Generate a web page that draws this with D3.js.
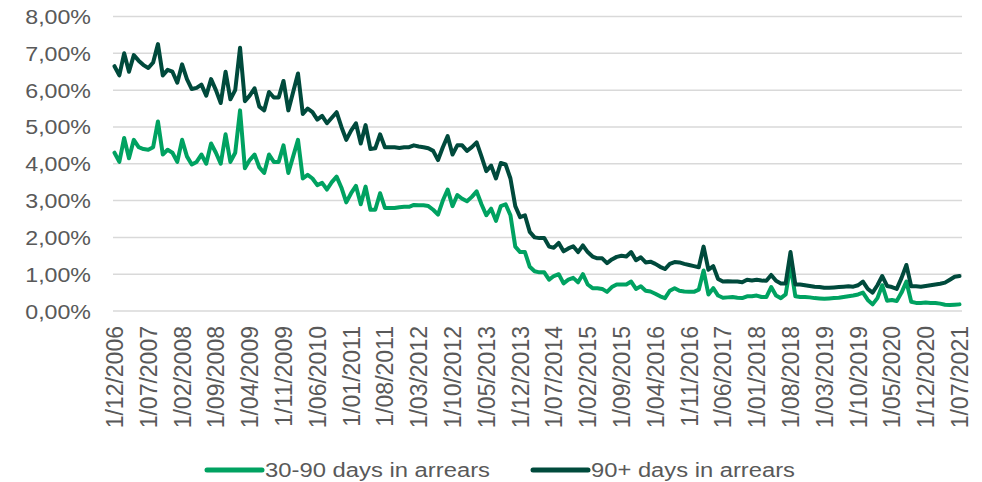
<!DOCTYPE html>
<html>
<head>
<meta charset="utf-8">
<script src="https://cdn.jsdelivr.net/npm/d3@7/dist/d3.min.js"></script>
<style>
  html, body { margin: 0; padding: 0; background: #fff; }
  svg { display: block; font-family: "Liberation Sans", Arial, sans-serif; }
</style>
</head>
<body>
<svg id="chart"></svg>
<script>
// monthly series, Dec 2006 .. Jul 2021 (176 months)
const startMonth = new Date(2006, 11, 1);
const endMonth = new Date(2021, 6, 1);

const arrears3090 = [
  4.30, 4.05, 4.70, 4.15, 4.65, 4.45, 4.40, 4.38, 4.45, 5.15,
  4.25, 4.38, 4.30, 4.05, 4.65, 4.20, 3.98, 4.05, 4.25, 4.00,
  4.55, 4.30, 4.00, 4.80, 4.05, 4.30, 5.45, 3.88, 4.10, 4.25,
  3.90, 3.75, 4.25, 4.05, 4.05, 4.50, 3.75, 4.20, 4.65, 3.60,
  3.70, 3.60, 3.42, 3.48, 3.30, 3.50, 3.65, 3.35, 2.95, 3.20,
  3.40, 2.90, 3.38, 2.75, 2.75, 3.20, 2.80, 2.80, 2.80, 2.82,
  2.83, 2.83, 2.88, 2.87, 2.87, 2.85, 2.75, 2.62, 3.00, 3.30,
  2.85, 3.15, 3.05, 2.98, 3.10, 3.25, 2.90, 2.60, 2.78, 2.45,
  2.85, 2.90, 2.60, 1.75, 1.60, 1.60, 1.20, 1.08, 1.05, 1.05,
  0.85, 0.95, 1.00, 0.75, 0.85, 0.90, 0.78, 1.00, 0.72, 0.62,
  0.62, 0.60, 0.52, 0.65, 0.72, 0.72, 0.72, 0.80, 0.60, 0.67,
  0.55, 0.53, 0.47, 0.40, 0.35, 0.55, 0.62, 0.55, 0.53, 0.52,
  0.52, 0.58, 1.10, 0.45, 0.62, 0.42, 0.36, 0.37, 0.38, 0.36,
  0.35, 0.40, 0.40, 0.42, 0.38, 0.38, 0.65, 0.42, 0.35, 0.45,
  1.25, 0.40, 0.38, 0.38, 0.37, 0.35, 0.34, 0.33, 0.34, 0.35,
  0.36, 0.38, 0.40, 0.42, 0.45, 0.50, 0.30, 0.18, 0.35, 0.70,
  0.28, 0.30, 0.27, 0.50, 0.80, 0.25, 0.22, 0.22, 0.23, 0.22,
  0.22, 0.20, 0.17, 0.16, 0.17, 0.18
];

const arrears90plus = [
  6.65, 6.40, 7.00, 6.50, 6.95, 6.80, 6.68, 6.60, 6.75, 7.25,
  6.40, 6.55, 6.50, 6.20, 6.70, 6.30, 6.03, 6.06, 6.15, 5.85,
  6.30, 6.00, 5.65, 6.50, 5.75, 6.00, 7.15, 5.70, 5.85, 6.05,
  5.55, 5.45, 5.95, 5.80, 5.80, 6.25, 5.45, 5.95, 6.45, 5.35,
  5.50, 5.40, 5.20, 5.30, 5.10, 5.25, 5.40, 5.00, 4.65, 4.90,
  5.10, 4.55, 5.05, 4.40, 4.42, 4.80, 4.45, 4.45, 4.45, 4.43,
  4.45, 4.45, 4.50, 4.47, 4.45, 4.42, 4.35, 4.10, 4.45, 4.75,
  4.25, 4.50, 4.50, 4.35, 4.45, 4.58, 4.20, 3.80, 3.95, 3.60,
  4.02, 3.98, 3.60, 2.85, 2.55, 2.60, 2.15, 2.00, 1.98, 1.98,
  1.75, 1.72, 1.85, 1.62, 1.70, 1.76, 1.60, 1.78, 1.60, 1.48,
  1.43, 1.43, 1.30, 1.40, 1.47, 1.50, 1.48, 1.60, 1.38, 1.46,
  1.32, 1.34, 1.28, 1.20, 1.14, 1.28, 1.33, 1.32, 1.28, 1.25,
  1.22, 1.19, 1.75, 1.12, 1.22, 0.87, 0.80, 0.81, 0.80, 0.80,
  0.78, 0.85, 0.83, 0.85, 0.83, 0.82, 0.98, 0.82, 0.75, 0.75,
  1.60, 0.72, 0.72, 0.70, 0.68, 0.66, 0.65, 0.63, 0.63, 0.64,
  0.65, 0.66, 0.67, 0.66, 0.70, 0.80, 0.60, 0.50, 0.70, 0.95,
  0.68, 0.65, 0.60, 0.90, 1.25, 0.67, 0.67, 0.66, 0.68, 0.70,
  0.72, 0.74, 0.77, 0.85, 0.93, 0.95
];

const tickLabels = [
  "1/12/2006", "1/07/2007", "1/02/2008", "1/09/2008", "1/04/2009", "1/11/2009",
  "1/06/2010", "1/01/2011", "1/08/2011", "1/03/2012", "1/10/2012", "1/05/2013",
  "1/12/2013", "1/07/2014", "1/02/2015", "1/09/2015", "1/04/2016", "1/11/2016",
  "1/06/2017", "1/01/2018", "1/08/2018", "1/03/2019", "1/10/2019", "1/05/2020",
  "1/12/2020", "1/07/2021"
];

const yTicks = [0, 1, 2, 3, 4, 5, 6, 7, 8];

const seriesNames = ["30-90 days in arrears", "90+ days in arrears"];
const seriesColors = ["#00a261", "#004a3c"];

(function() {
  const width = 982, height = 482;
  const textColor = "#595959";

  const fmt = d3.timeFormat("%m/%Y");
  const categories = d3.timeMonth.range(startMonth, d3.timeMonth.offset(endMonth, 1))
    .map(d => "1/" + fmt(d));

  const svg = d3.select("#chart").attr("width", width).attr("height", height);

  const x = d3.scalePoint().domain(categories).range([114.5, 959.5]);
  const y = d3.scaleLinear().domain([0, 8]).range([311, 16.5]);

  // gridlines
  svg.append("g")
    .selectAll("line")
    .data(yTicks)
    .join("line")
    .attr("x1", 113).attr("x2", 962)
    .attr("y1", d => y(d)).attr("y2", d => y(d))
    .attr("stroke", "#d9d9d9")
    .attr("stroke-width", 1.5);

  // y axis labels (the source picture is a bit wider than tall, so stretch text)
  const yAxis = d3.axisLeft(y)
    .tickValues(yTicks)
    .tickSize(0)
    .tickPadding(0)
    .tickFormat(d => d.toFixed(2).replace(".", ",") + "%");
  const gy = svg.append("g").attr("transform", "translate(91,0)").call(yAxis);
  gy.select(".domain").remove();
  gy.selectAll("text")
    .attr("fill", textColor)
    .style("font-size", "20px")
    .attr("dy", "0.35em")
    .attr("transform", "scale(1.16,1)");

  // x axis labels (rotated)
  const xAxis = d3.axisBottom(x).tickValues(tickLabels).tickSize(0);
  const gx = svg.append("g").attr("transform", "translate(0,311)").call(xAxis);
  gx.select(".domain").remove();
  gx.selectAll("text")
    .attr("fill", textColor)
    .style("font-size", "23px")
    .attr("transform", "rotate(-90)")
    .attr("text-anchor", "end")
    .attr("x", -15)
    .attr("y", 0)
    .attr("dy", "0.35em");

  // lines
  const line = d3.line()
    .x((d, i) => x(categories[i]))
    .y(d => y(d));

  [arrears3090, arrears90plus].forEach((vals, k) => {
    svg.append("path")
      .datum(vals)
      .attr("fill", "none")
      .attr("stroke", seriesColors[k])
      .attr("stroke-width", 4)
      .attr("stroke-linejoin", "round")
      .attr("stroke-linecap", "round")
      .attr("d", line);
  });

  // legend
  const legendX = [207, 533];
  const legendW = [225, 204];
  const legendY = 470;
  seriesNames.forEach((name, k) => {
    const g = svg.append("g").attr("transform", `translate(${legendX[k]},${legendY})`);
    g.append("line")
      .attr("x1", 0).attr("x2", 55)
      .attr("stroke", seriesColors[k])
      .attr("stroke-width", 5)
      .attr("stroke-linecap", "round");
    g.append("text")
      .attr("x", 58)
      .attr("dy", "0.35em")
      .attr("fill", textColor)
      .style("font-size", "20px")
      .attr("textLength", legendW[k])
      .attr("lengthAdjust", "spacingAndGlyphs")
      .text(name);
  });
})();
</script>
</body>
</html>
